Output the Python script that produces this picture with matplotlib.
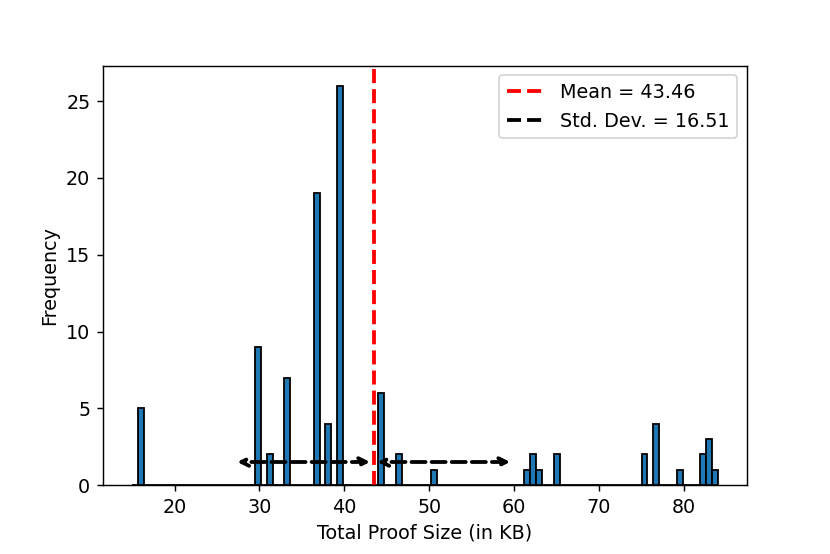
import matplotlib
matplotlib.use("Agg")
import matplotlib.pyplot as plt
from matplotlib.lines import Line2D

plt.rcParams["font.size"] = 10.6

# proof sizes (KB), one representative value per bin,
# with how many proofs fall in each bin
proof_sizes = [16.04, 29.84, 31.22, 33.29, 36.74, 38.12, 39.50, 44.33, 46.40,
               50.54, 61.58, 62.27, 62.96, 65.03, 75.38, 76.76, 79.52, 82.28,
               82.97, 83.66]
proof_counts = [5, 9, 2, 7, 19, 4, 26, 6, 2,
                1, 1, 2, 1, 2, 2, 4, 1, 2,
                3, 1]
n_bins = 100
bin_range = (15.0, 84.0)

mean_kb = 43.46
std_kb = 16.51
arrow_y = 1.5

fig = plt.figure(figsize=(830 / 130, 554 / 130), dpi=130)
ax = fig.add_subplot(111)
fig.subplots_adjust(left=0.124, right=0.9, top=0.881, bottom=0.1245)

ax.hist(proof_sizes, bins=n_bins, range=bin_range, weights=proof_counts,
        edgecolor="black")

ax.axvline(mean_kb, color="red", linestyle="--", linewidth=2.1)

arrow_kw = dict(arrowstyle="<->", linestyle="--", linewidth=2.1, color="black")
ax.annotate("", xy=(mean_kb - std_kb, arrow_y), xytext=(mean_kb, arrow_y),
            arrowprops=arrow_kw)
ax.annotate("", xy=(mean_kb, arrow_y), xytext=(mean_kb + std_kb, arrow_y),
            arrowprops=arrow_kw)

handles = [
    Line2D([], [], color="red", linestyle="--", linewidth=2.1,
           label=f"Mean = {mean_kb:.2f}"),
    Line2D([], [], color="black", linestyle="--", linewidth=2.1,
           label=f"Std. Dev. = {std_kb:.2f}"),
]
ax.legend(handles=handles, loc="upper right")

ax.set_xlabel("Total Proof Size (in KB)")
ax.set_ylabel("Frequency")

fig.savefig("out.png", dpi=130)
